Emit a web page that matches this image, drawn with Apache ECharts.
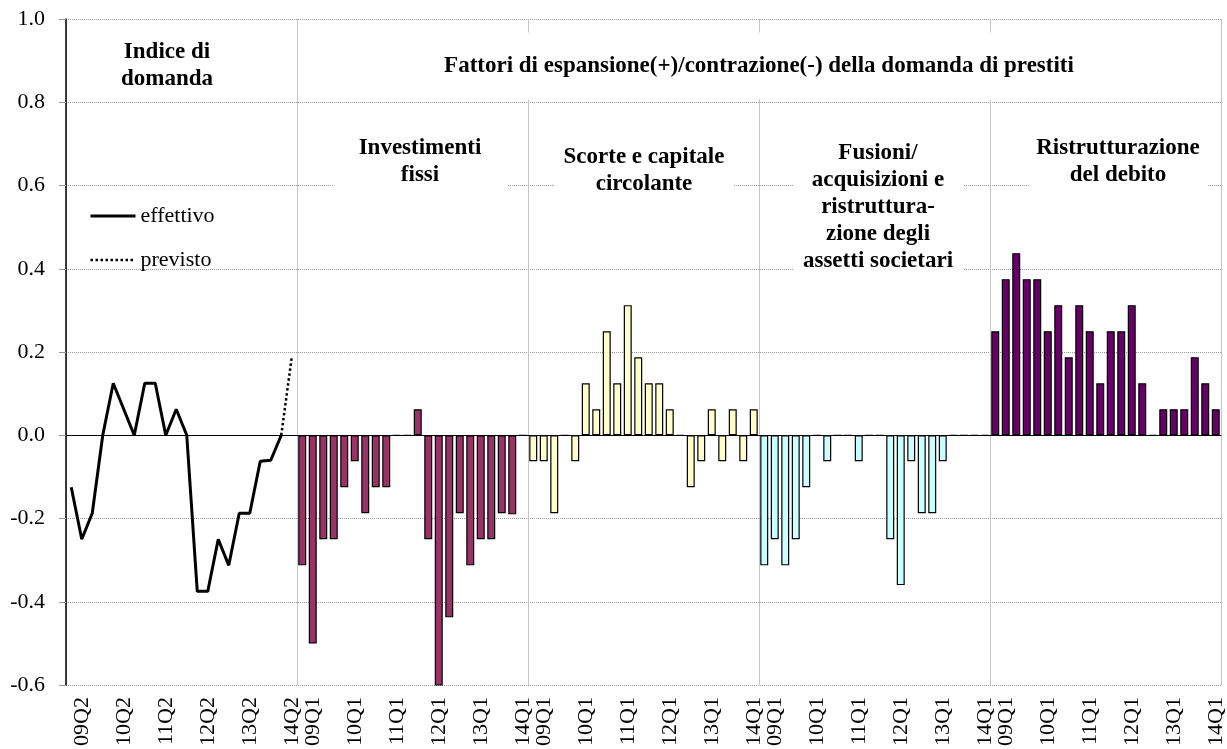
<!DOCTYPE html>
<html><head><meta charset="utf-8">
<script src="https://cdn.jsdelivr.net/npm/echarts@6/dist/echarts.min.js"></script>
<style>html,body{margin:0;padding:0;background:#fff}#c{width:1227px;height:749px}</style>
</head><body><div id="c"></div>
<script>
// ---- data ----
const SLOTS = 22; // categories per panel
const effettivo = [-0.125, -0.25, -0.1875, 0, 0.125, 0.0625, 0, 0.125, 0.125, 0, 0.0625, 0, -0.375, -0.375, -0.25, -0.3125, -0.1875, -0.1875, -0.0625, -0.06, 0];
const previsto = [0, 0.1875]; // 14Q1 (actual) -> 14Q2 (expected)
const investimentiFissi = [-0.3125, -0.5, -0.25, -0.25, -0.125, -0.0625, -0.1875, -0.125, -0.125, 0, 0, 0.0625, -0.25, -0.625, -0.4375, -0.1875, -0.3125, -0.25, -0.25, -0.1875, -0.19, 0];
const scorteCapitale = [-0.0625, -0.0625, -0.1875, 0, -0.0625, 0.125, 0.0625, 0.25, 0.125, 0.3125, 0.1875, 0.125, 0.125, 0.0625, 0, -0.125, -0.0625, 0.0625, -0.0625, 0.0625, -0.0625, 0.0625];
const fusioniAcquisizioni = [-0.3125, -0.25, -0.3125, -0.25, -0.125, 0, -0.0625, 0, 0, -0.0625, 0, 0, -0.25, -0.36, -0.0625, -0.1875, -0.1875, -0.0625, 0, 0, 0, 0];
const ristrutturazioneDebito = [0.25, 0.375, 0.4375, 0.375, 0.375, 0.25, 0.3125, 0.1875, 0.3125, 0.25, 0.125, 0.25, 0.25, 0.3125, 0.125, 0, 0.0625, 0.0625, 0.0625, 0.1875, 0.125, 0.0625];
const labelsIndice = ['09Q2', '10Q2', '11Q2', '12Q2', '13Q2', '14Q2'];
const labelsFattori = ['09Q1', '10Q1', '11Q1', '12Q1', '13Q1', '14Q1'];

// ---- build category axis (5 panels x 22 slots) ----
const N = SLOTS * 5;
const categories = [];
const tickText = [];
for (let s = 0; s < 5; s++) {
  const lab = s === 0 ? labelsIndice : labelsFattori;
  for (let k = 0; k < SLOTS; k++) {
    categories.push('p' + s + '_' + k);
    tickText.push(k % 4 === 1 ? lab[(k - 1) / 4] : '');
  }
}
function place(values, panel, offset) {
  const arr = new Array(N).fill(null);
  values.forEach((v, i) => { arr[panel * SLOTS + (offset || 0) + i] = v; });
  return arr;
}

const SERIF = '"Liberation Serif", "Times New Roman", serif';
const chart = echarts.init(document.getElementById('c'), null, {renderer: 'canvas'});

function barSeries(name, values, panel, color) {
  return {
    name: name, type: 'bar', xAxisIndex: 0, data: place(values, panel),
    barWidth: '76%', barGap: '-100%',
    itemStyle: {color: color, borderColor: '#000', borderWidth: 1.2},
    emphasis: {disabled: true}
  };
}

function box(text, x, y, padH, padV) {
  return {
    type: 'text', x: x, y: y, z: 100,
    style: {
      text: text, font: 'bold 23px ' + SERIF, fill: '#000',
      align: 'center', verticalAlign: 'middle', textAlign: 'center', textVerticalAlign: 'middle',
      lineHeight: 27, backgroundColor: '#fff', padding: [padV, padH]
    }
  };
}

chart.setOption({
  animation: false,
  backgroundColor: '#fff',
  grid: {left: 66, right: 6, top: 19, bottom: 64, containLabel: false},
  legend: {
    orient: 'vertical', left: 89, top: 205, padding: 0,
    itemWidth: 45, itemHeight: 10, itemGap: 22,
    data: [
      {name: 'effettivo', lineStyle: {width: 3, color: '#000', type: 'solid'}},
      {name: 'previsto', lineStyle: {width: 2.5, color: '#000', type: [2.5, 2.5]}}
    ],
    itemStyle: {opacity: 0, borderWidth: 0},
    textStyle: {fontFamily: SERIF, fontSize: 22, color: '#000'}
  },
  xAxis: [
    {
      type: 'category', data: categories, position: 'bottom',
      axisLine: {show: false, onZero: false}, axisTick: {show: false},
      splitLine: {show: false},
      axisLabel: {
        interval: 0, rotate: 90, margin: 12,
        fontFamily: SERIF, fontSize: 22, color: '#000',
        formatter: (v, i) => tickText[i]
      }
    },
    {
      type: 'value', min: 0, max: N, interval: SLOTS, position: 'bottom',
      axisLine: {show: true, onZero: true, lineStyle: {color: '#000', width: 1}},
      axisTick: {show: false}, axisLabel: {show: false},
      splitLine: {show: true, lineStyle: {color: '#c4c4c4', width: 1, type: 'solid'}}
    }
  ],
  yAxis: {
    type: 'value', min: -0.6, max: 1.0, interval: 0.2,
    axisLine: {show: true, onZero: false, lineStyle: {color: '#000', width: 1.5}},
    axisTick: {show: true, length: 7, lineStyle: {color: '#999'}},
    axisLabel: {margin: 21, fontFamily: SERIF, fontSize: 22, color: '#000', formatter: v => v.toFixed(1)},
    splitLine: {show: true, lineStyle: {color: '#999', width: 1, type: 'dotted'}}
  },
  series: [
    {
      name: 'effettivo', type: 'line', xAxisIndex: 0, data: place(effettivo, 0),
      symbol: 'none', showSymbol: false, connectNulls: false,
      lineStyle: {color: '#000', width: 3}, itemStyle: {color: '#000'}, z: 5
    },
    {
      name: 'previsto', type: 'line', xAxisIndex: 0, data: place(previsto, 0, 20),
      symbol: 'none', showSymbol: false,
      lineStyle: {color: '#000', width: 2.5, type: [2.5, 2.5]}, itemStyle: {color: '#000'}, z: 5
    },
    barSeries('Investimenti fissi', investimentiFissi, 1, '#993366'),
    barSeries('Scorte e capitale circolante', scorteCapitale, 2, '#FFFFCC'),
    barSeries('Fusioni/acquisizioni e ristrutturazione degli assetti societari', fusioniAcquisizioni, 3, '#CCFFFF'),
    barSeries('Ristrutturazione del debito', ristrutturazioneDebito, 4, '#660066')
  ],
  graphic: [
    box('Indice di\ndomanda', 167, 65.5, 6, 4),
    box('Fattori di espansione(+)/contrazione(-) della domanda di prestiti', 759, 66, 20, 20),
    box('Investimenti\nfissi', 420, 161.5, 26, 6),
    box('Scorte e capitale\ncircolante', 644, 170.5, 9, 6),
    box('Fusioni/\nacquisizioni e\nristruttura-\nzione degli\nassetti societari', 878, 207, 10, 6),
    box('Ristrutturazione\ndel debito', 1118, 161.5, 8, 6)
  ]
});
</script></body></html>
